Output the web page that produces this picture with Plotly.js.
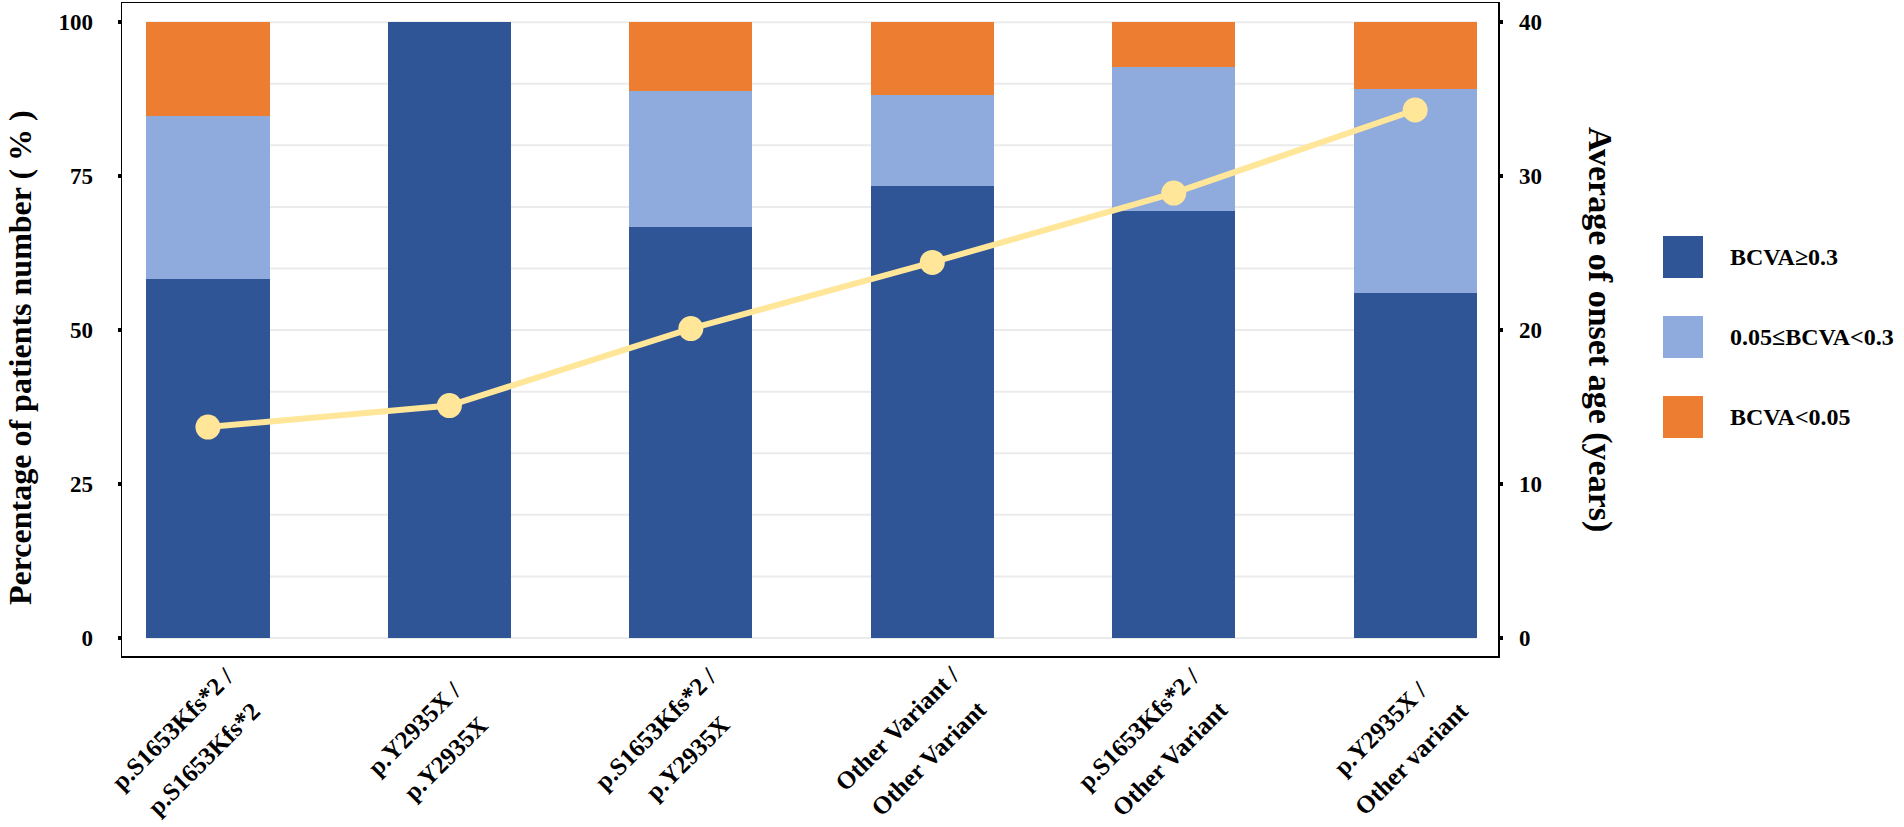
<!DOCTYPE html>
<html>
<head>
<meta charset="utf-8">
<script src="https://cdn.plot.ly/plotly-3.0.1.min.js"></script>
<style>
  html, body { margin: 0; padding: 0; background: #fff; }
  #chart { width: 1904px; height: 827px; }
</style>
</head>
<body>
<div id="chart"></div>
<script>
// genotype groups, label split in two lines like the figure
const variantLine1 = ["p.S1653Kfs*2 /", "p.Y2935X /", "p.S1653Kfs*2 /", "Other Variant /", "p.S1653Kfs*2 /", "p.Y2935X /"];
const variantLine2 = ["p.S1653Kfs*2", "p.Y2935X", "p.Y2935X", "Other Variant", "Other Variant", "Other variant"];

// percentage of patients per BCVA class
const bcvaGood = [58.3, 100, 66.7, 73.4, 69.4, 56.1];
const bcvaMid = [26.4, 0, 22.2, 14.8, 23.3, 33.1];
const bcvaPoor = [15.3, 0, 11.1, 11.8, 7.3, 10.8];

// average onset age (years), right axis
const onsetAge = [13.7, 15.1, 20.1, 24.4, 28.9, 34.3];

const seriesNames = ["BCVA≥0.3", "0.05≤BCVA<0.3", "BCVA<0.05"];
const seriesColors = ["#2F5597", "#8FAADC", "#ED7D31"];
const lineColor = "#FFE699";

const leftTicks = [0, 25, 50, 75, 100];
const rightTicks = [0, 10, 20, 30, 40];
const gridLevels = [0, 10, 20, 30, 40, 50, 60, 70, 80, 90, 100];

const FONT = "Liberation Serif, Times New Roman, serif";
const BAR_W = 0.51;

// plot box in page pixels
const box = { l: 122, r: 1498, t: 3, b: 656 };
const W = box.r - box.l;
const H = box.b - box.t;
const px = (x) => (x - box.l) / W;
const py = (y) => (box.b - y) / H;

const cats = variantLine1.map((a, i) => a + " " + variantLine2[i]);

function barTrace(values, idx) {
  return {
    type: "bar",
    x: cats,
    y: values,
    name: seriesNames[idx],
    marker: { color: seriesColors[idx], line: { width: 0 } },
    width: BAR_W,
    showlegend: false,
    hoverinfo: "y+name",
  };
}

const data = [
  barTrace(bcvaGood, 0),
  barTrace(bcvaMid, 1),
  barTrace(bcvaPoor, 2),
  {
    type: "scatter",
    mode: "lines+markers",
    x: cats,
    y: onsetAge,
    yaxis: "y2",
    name: "Average of onset age",
    line: { color: lineColor, width: 6 },
    marker: { color: lineColor, size: 25 },
    showlegend: false,
  },
];

const annotations = [];
const shapes = [];

// faint horizontal grid, spanning first bar edge to last bar edge
gridLevels.forEach((g) => {
  shapes.push({
    type: "line", layer: "below",
    xref: "x", x0: -BAR_W / 2, x1: cats.length - 1 + BAR_W / 2,
    yref: "y", y0: g, y1: g,
    line: { color: "#EBEBEB", width: 2 },
  });
});

const labelFont = { family: FONT, size: 25, color: "#000", weight: "bold" };

// x labels: each line rotated about its own centre, centred under the bar
cats.forEach((c, i) => {
  [[variantLine1[i], -35, 728], [variantLine2[i], -4, 758]].forEach(([txt, dx, y]) => {
    annotations.push({
      x: c, xref: "x",
      y: py(y), yref: "paper",
      xanchor: "center", yanchor: "middle",
      xshift: dx,
      textangle: -45,
      showarrow: false,
      font: labelFont,
      text: txt,
    });
  });
});

// axis titles
annotations.push({
  x: px(20), y: py(358), xref: "paper", yref: "paper",
  xanchor: "center", yanchor: "middle",
  textangle: -90, showarrow: false,
  font: { family: FONT, size: 32, color: "#000", weight: "bold" },
  text: "Percentage of patients number ( % )",
});
annotations.push({
  x: px(1600), y: py(329), xref: "paper", yref: "paper",
  xanchor: "center", yanchor: "middle",
  textangle: 90, showarrow: false,
  font: { family: FONT, size: 34, color: "#000", weight: "bold" },
  text: "Average of onset age (years)",
});

// legend on the right
const legendTop = [236, 316, 396];
seriesNames.forEach((n, i) => {
  shapes.push({
    type: "rect", xref: "paper", yref: "paper",
    x0: px(1663), x1: px(1703),
    y0: py(legendTop[i] + 42), y1: py(legendTop[i]),
    fillcolor: seriesColors[i], line: { width: 0 },
  });
  annotations.push({
    x: px(1728), y: py(legendTop[i] + 21), xref: "paper", yref: "paper",
    xanchor: "left", yanchor: "middle", showarrow: false,
    font: { family: FONT, size: 24, color: "#000", weight: "bold" },
    text: n,
  });
});

const tickFont = { family: FONT, size: 23, color: "#000", weight: "bold" };

const layout = {
  width: 1904,
  height: 827,
  margin: { l: box.l, r: 1904 - box.r, t: box.t, b: 827 - box.b, pad: 0 },
  paper_bgcolor: "#fff",
  plot_bgcolor: "#fff",
  barmode: "stack",
  bargap: 0.49,
  showlegend: false,
  font: { family: FONT, color: "#000" },
  xaxis: {
    type: "category",
    range: [-0.356, 5.343],
    showticklabels: false,
    ticks: "",
    showgrid: false,
    zeroline: false,
    showline: true,
    mirror: true,
    linecolor: "#000",
    linewidth: 1.5,
  },
  yaxis: {
    range: [-2.92, 103.12],
    tickvals: leftTicks,
    ticks: "outside",
    ticklen: 3,
    tickwidth: 4,
    tickcolor: "#000",
    ticklabelstandoff: 20,
    tickfont: tickFont,
    showgrid: false,
    zeroline: false,
    showline: true,
    mirror: true,
    linecolor: "#000",
    linewidth: 1.5,
  },
  yaxis2: {
    overlaying: "y",
    anchor: "x",
    side: "right",
    range: [-2.92 * 0.4, 103.12 * 0.4],
    tickvals: rightTicks,
    ticks: "outside",
    ticklen: 3,
    tickwidth: 4,
    tickcolor: "#000",
    ticklabelstandoff: 12,
    tickfont: tickFont,
    showgrid: false,
    zeroline: false,
    showline: true,
    linecolor: "#000",
    linewidth: 1.5,
  },
  annotations: annotations,
  shapes: shapes,
};

Plotly.newPlot("chart", data, layout, { displayModeBar: false, staticPlot: true });
</script>
</body>
</html>
